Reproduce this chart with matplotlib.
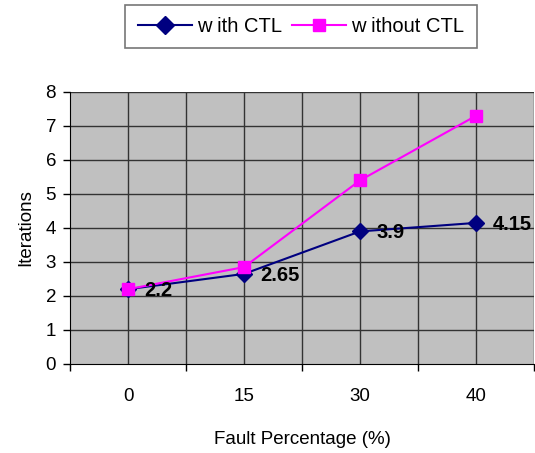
import numpy as np
import matplotlib
matplotlib.use("Agg")
import matplotlib.pyplot as plt
from matplotlib.lines import Line2D

plt.rcParams['font.family'] = ['Liberation Sans', 'DejaVu Sans']

# data
categories = ['0', '15', '30', '40']
with_ctl = [2.2, 2.65, 3.9, 4.15]
without_ctl = [2.2, 2.85, 5.4, 7.3]
value_labels = ['2.2', '2.65', '3.9', '4.15']

fig = plt.figure(figsize=(5.35, 4.53), dpi=100)
ax = fig.add_axes([70/535, 89/453, 464/535, 272/453])
ax.set_facecolor('#c0c0c0')

x = np.arange(len(categories))
ax.plot(x, with_ctl, color='#000080', marker='D', markersize=8.5, lw=1.5, zorder=3)
ax.plot(x, without_ctl, color='#ff00ff', marker='s', markersize=8, lw=1.5, zorder=4)

for xi, yi, s in zip(x, with_ctl, value_labels):
    ax.annotate(s, (xi, yi), xytext=(12, -1), textcoords='offset points',
                fontsize=14.5, fontweight='bold', va='center', ha='left', zorder=5,
                annotation_clip=False)

ax.set_xlim(-0.5, len(categories) - 0.5)
ax.set_ylim(0, 8)
ax.set_yticks(range(0, 9))
ax.set_xticks(x)
ax.set_xticklabels(categories, fontsize=13.5)
ax.set_xticks(np.arange(-0.5, len(categories)), minor=True)
ax.tick_params(axis='x', which='major', length=0, pad=17)
ax.tick_params(axis='x', which='minor', length=5, direction='out', width=1)
ax.tick_params(axis='y', labelsize=13.5, length=5, direction='out', width=1, pad=5)

# gridlines at integers, category centres and category boundaries
for yv in range(1, 9):
    ax.axhline(yv, color='#333333', lw=1, zorder=1)
for xv in np.arange(-0.5, len(categories), 0.5)[1:]:
    ax.axvline(xv, color='#333333', lw=1, zorder=1)

for side in ['top', 'right']:
    ax.spines[side].set_visible(False)
ax.spines['left'].set_color('black')
ax.spines['bottom'].set_color('black')

ax.set_xlabel('Fault Percentage (%)', fontsize=13.5, labelpad=19)
ax.set_ylabel('Iterations', fontsize=13.5, labelpad=8)

handles = [Line2D([], [], color='#000080', marker='D', markersize=9, lw=1.5),
           Line2D([], [], color='#ff00ff', marker='s', markersize=8, lw=1.5)]
leg = fig.legend(handles, ['w ith CTL', 'w ithout CTL'], ncol=2, loc='upper center',
                 bbox_to_anchor=(301/535, 1 - 5/453), fontsize=14.5, frameon=True,
                 fancybox=False, edgecolor='#555555', handlelength=2.7,
                 columnspacing=0.5, handletextpad=0.25, borderpad=0.6,
                 borderaxespad=0)
leg.get_frame().set_linewidth(1.2)

fig.savefig('out.png', dpi=100)
